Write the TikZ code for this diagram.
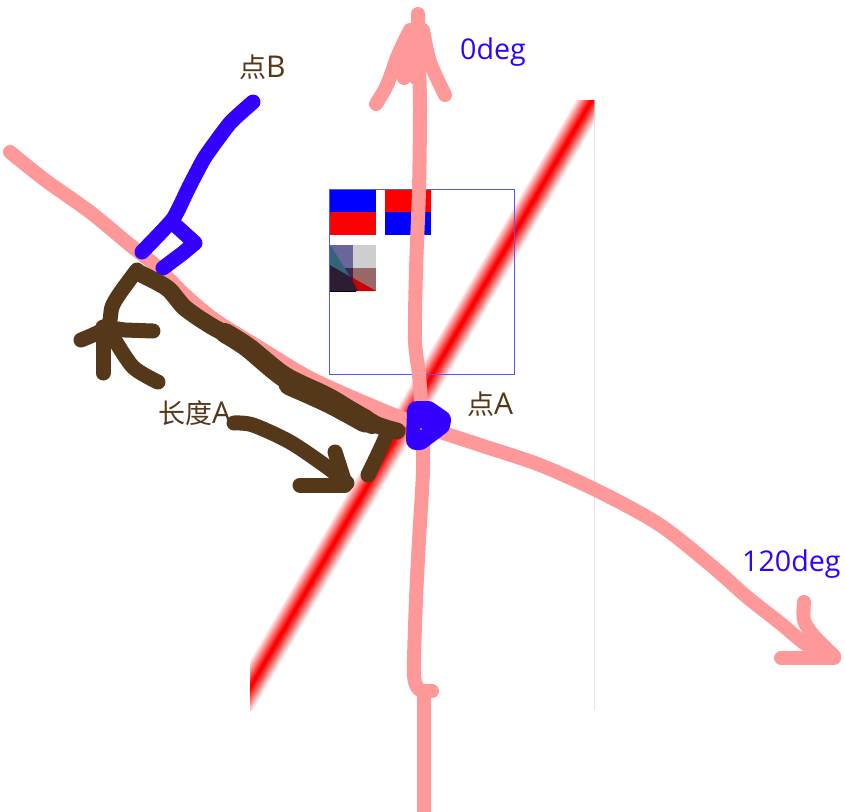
\documentclass[tikz,border=0pt]{standalone}
\usepackage{fontspec}
\setmainfont{Open Sans}
\newfontfamily\cjkfont{Noto Sans CJK SC}
\definecolor{pinkstroke}{HTML}{FF9999}
\definecolor{bluestroke}{HTML}{3300FF}
\definecolor{brownstroke}{HTML}{553819}
\newcommand{\cjkbit}[1]{{\fontsize{27}{27}\selectfont\cjkfont #1}}
\tikzset{
  pinkline/.style={draw=pinkstroke,line width=14pt,line cap=round,line join=round},
  blueline/.style={draw=bluestroke,line width=15pt,line cap=round,line join=round},
  brownline/.style={draw=brownstroke,line width=15pt,line cap=round,line join=round},
  bluelabel/.style={text=bluestroke,inner sep=0pt,anchor=base west,font=\fontsize{28.6}{29}\selectfont},
  brownlabel/.style={text=brownstroke,inner sep=0pt,anchor=base west,font=\fontsize{30}{30}\selectfont}
}
\begin{document}
\begin{tikzpicture}[x=1pt,y=-1pt]
\useasboundingbox (0,0) rectangle (845,811);
\fill[white] (0,0) rectangle (845,811);
% faint edge and red gradient line
\draw[draw=black!10,line width=1pt] (594.5,100) -- (594.5,710);
\begin{scope}
  \clip (250,100) rectangle (594,710);
  \foreach \i in {0,...,12}{
    \pgfmathsetmacro{\wd}{27-2*\i}
    \pgfmathsetmacro{\mix}{(\i+1)*100/13}
    \draw[draw=red!\mix!white,line width=\wd pt] (200,774) -- (640,17.5);
  }
\end{scope}
% colour squares
\fill[blue] (329,189) rectangle (375.5,212);
\fill[red] (329,212) rectangle (375.5,235);
\fill[red] (385,189) rectangle (431,212);
\fill[blue] (385,212) rectangle (431,235);
% blended square
\fill[fill={rgb,255:red,106;green,101;blue,154}] (330,245) rectangle (353,268);
\fill[fill={rgb,255:red,207;green,207;blue,207}] (353,245) rectangle (376,268);
\fill[fill={rgb,255:red,155;green,104;blue,104}] (353,268) rectangle (376,291);
\fill[fill={rgb,255:red,58;green,40;blue,78}] (330,268) rectangle (353,291);
\fill[fill={rgb,255:red,204;green,0;blue,0}] (353,278) -- (376,291) -- (353,291) -- cycle;
\fill[fill={rgb,255:red,120;green,0;blue,50}] (330,265) -- (353,278) -- (353,291) -- (330,291) -- cycle;
\fill[fill={rgb,255:red,44;green,28;blue,52}] (330,265) -- (350,276.5) -- (358,291) -- (330,291) -- cycle;
\fill[fill={rgb,255:red,51;green,100;blue,120}] (330,245) -- (350,276.5) -- (330,265) -- cycle;
\draw[black,line width=1pt] (330,291) -- (356,291);
% square outline
\draw[draw={rgb,255:red,85;green,85;blue,255},line width=1pt] (329.5,189.5) rectangle (514.5,374.5);
% vertical pink stroke
\draw[pinkline] plot[smooth,tension=.5] coordinates {(418,14) (419,60) (420,110) (419,190) (416,270) (415,340) (419,375) (422,420) (423,470) (419,540) (416,600) (414,675) (420,690)};
\draw[pinkline] (432,691) -- (424,691) -- (424,811);
% top arrow head
\draw[pinkline] plot[smooth,tension=.5] coordinates {(376,104) (387,85) (398,55) (410,30)};
\draw[pinkline] plot[smooth,tension=.5] coordinates {(404,78) (406,45) (412,30)};
\draw[pinkline] plot[smooth,tension=.5] coordinates {(445,95) (430,62) (423,30)};
\fill[pinkstroke] (395,70) -- (412,20) -- (430,60) -- (420,90) -- cycle;
% long diagonal pink stroke
\draw[pinkline] plot[smooth,tension=.5] coordinates {(10,152) (45,180) (90,212) (130,245) (155,265) (185,295) (215,320) (260,348) (310,378) (370,405) (420,425) (480,445) (540,465) (600,492) (660,525) (713,567) (747,597) (780,623) (807,645) (834,657)};
\draw[pinkline] (781,658) -- (834,658);
\draw[pinkline] plot[smooth,tension=.5] coordinates {(804,602) (804,620) (813,635) (834,656)};
% blue strokes
\draw[blueline] plot[smooth,tension=.3] coordinates {(253,102) (230,123) (205,157) (189,187) (173,219) (142,252)};
\draw[blueline] (173,223) -- (195,243) -- (183,253) -- (163,268);
\fill[bluestroke,draw=bluestroke,line width=20pt,line join=round] (417,411) -- (428,411) -- (441,420) -- (440,425) -- (420,440) -- (416,440) -- cycle;
\fill[pinkstroke] (421,429) circle (1.2pt);
% brown strokes
\draw[brownline] plot[smooth,tension=.5] coordinates {(137,270) (120,293) (112,307) (107,327) (81,340)};
\draw[brownline] (103,327) -- (125,330) -- (153,331);
\draw[brownline] (103,373) -- (103,335);
\draw[brownline] plot[smooth,tension=.5] coordinates {(158,382) (133,367) (113,337)};
\draw[brownline,line width=17pt] plot[smooth,tension=.5] coordinates {(137,272) (167,288) (185,308) (213,327) (247,345) (285,375) (330,397) (373,423) (397,431)};
\draw[brownline,line width=20pt] plot[smooth,tension=.5] coordinates {(225,333) (247,347) (285,378) (330,400) (372,424)};
\draw[brownline,line width=23pt] plot[smooth,tension=.5] coordinates {(290,384) (330,402) (365,421)};
\draw[brownline] plot[smooth,tension=.5] coordinates {(368,475) (380,450) (388,432)};
\draw[brownline] plot[smooth,tension=.5] coordinates {(234,423) (253,425) (290,442) (327,467) (347,483)};
\draw[brownline] (300,485) -- (345,485);
\draw[brownline] (335,452) -- (345,483);
% labels
\node[bluelabel] (deg0) at (460,59) {0deg};
\node[bluelabel] (deg120) at (742,571) {120deg};
\node[brownlabel] (pointA) at (467,414) {\cjkbit{点}A};
\node[brownlabel] (pointB) at (239,77) {\cjkbit{点}B};
\node[brownlabel] (lengthA) at (158,423) {\cjkbit{长度}A};
\end{tikzpicture}
\end{document}
